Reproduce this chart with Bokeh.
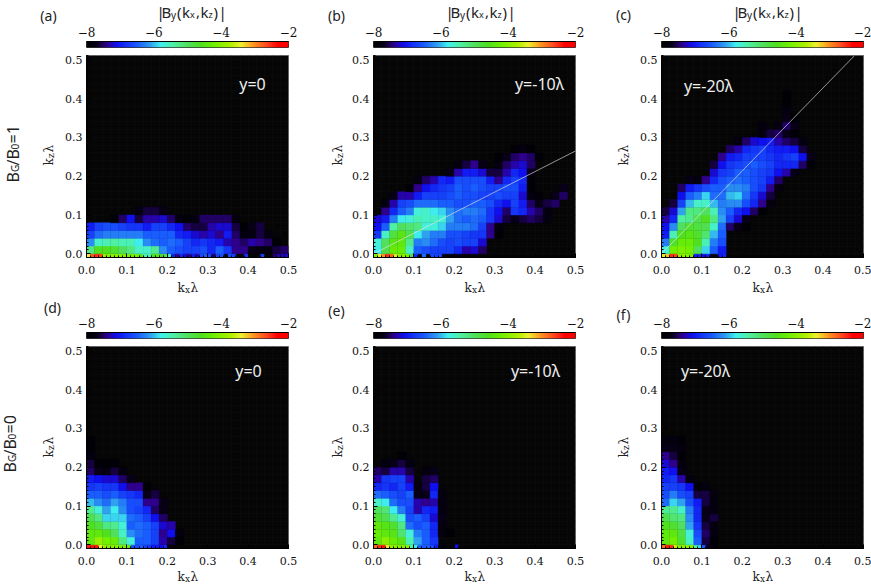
import math

import numpy as np
from bokeh.embed import file_html
from bokeh.layouts import column, row
from bokeh.models import ColumnDataSource, FixedTicker, Label, LinearColorMapper, PrintfTickFormatter, SingleIntervalTicker
from bokeh.plotting import figure
from bokeh.resources import INLINE

# log10 |By|, one list per kz row (0.02 wide), starting at kx=0 with 0.02 wide cells. -8 is background.
A_BASE = [-3.4, -2.7, -2.5, -2.6, -3.9, -4.0, -3.9, -4.0, -4.0, -4.1, -4.1, -4.2, -4.2, -4.5, -5.5, -5.6, -4.6, -4.5, -4.6, -5.0, -5.5, -7.0, -7.4, -6.9, -7.2, -7.4, -7.0, -7.3, -6.6, -6.5, -6.6, -7.5, -6.7, -6.6, -8, -6.6, -6.7, -8, -8, -6.8, -8, -8, -8, -6.7, -8, -8, -7.5, -7.3, -7.3, -7.2]
A_ROWS = [
    [-5.2, -4.6, -4.6, -4.7, -5.0, -5.2, -5.6, -5.6, -5.3, -6.2, -6.5, -6.6, -6.7, -6.7, -6.6, -6.9, -6.5, -6.8, -7.4, -7.4, -7.7, -7.8, -7.8, -7.6, -7.5],
    [-6.2, -5.6, -5.5, -5.4, -5.5, -5.5, -5.8, -6.2, -6.4, -6.5, -6.4, -6.5, -6.7, -6.9, -6.8, -6.9, -7.0, -7.3, -7.4, -7.5, -7.3, -7.4, -7.5, -7.9],
    [-6.7, -6.4, -6.3, -6.3, -6.3, -6.3, -6.3, -6.5, -6.5, -6.5, -6.5, -6.9, -7.0, -7.2, -7.3, -7.2, -7.4, -7.0, -7.5, -7.8, -7.8, -7.6, -7.8],
    [-7.0, -6.7, -6.6, -6.6, -6.7, -6.8, -6.8, -7.0, -6.7, -6.7, -6.9, -7.1, -7.5, -7.6, -7.6, -7.3, -7.2, -7.2, -7.6, -7.9, -7.7, -7.6],
    [-8, -8, -8, -7.9, -7.5, -7.1, -7.6, -7.3, -7.3, -7.2, -7.5, -7.8, -7.9, -7.8, -7.5, -7.5, -7.5, -7.5, -7.8],
    [-8, -8, -8, -8, -8, -8, -7.8, -7.6, -7.6, -7.7],
]

B_BASE = [-4.0, -3.4, -3.0, -2.5, -2.8, -3.5, -4.0, -4.0, -4.2, -5.0, -6.9, -8, -6.4, -8, -6.6, -6.7, -6.6, -7.7, -8, -7.8, -7.7, -7.8]
B_ROWS = [
    [-5.8, -4.9, -4.3, -4.3, -5.6, -6.5, -6.6, -6.7, -6.7, -6.7, -6.9, -7.3, -7.2, -7.5],
    [-5.7, -5.0, -4.5, -4.4, -5.3, -6.3, -6.2, -6.4, -6.6, -6.7, -6.6, -6.7, -6.7, -7.2],
    [-6.8, -5.6, -4.8, -4.5, -4.9, -5.8, -6.1, -6.3, -6.3, -6.6, -6.6, -6.7, -6.8, -6.8, -7.4, -7.9],
    [-7.1, -6.5, -5.4, -5.0, -5.1, -5.2, -5.7, -5.7, -5.9, -6.3, -6.3, -6.3, -6.4, -6.7, -7.4, -7.8],
    [-7.2, -7.0, -6.3, -5.8, -5.7, -5.5, -5.6, -5.6, -5.7, -6.1, -6.4, -6.5, -6.4, -6.5, -6.8, -7.2, -7.6, -7.7, -7.6, -7.5, -7.6, -7.8],
    [-8, -7.4, -6.9, -6.5, -6.3, -5.7, -5.6, -5.8, -5.9, -6.2, -6.4, -6.3, -6.3, -6.4, -6.8, -7.1, -7.5, -6.8, -6.9, -7.3, -7.5, -7.8],
    [-8, -7.8, -7.3, -6.7, -6.6, -6.4, -6.4, -6.4, -6.5, -6.5, -6.6, -6.6, -6.5, -6.5, -6.6, -6.9, -7.1, -6.7, -7.0, -7.5, -7.7, -7.6, -7.5],
    [-8, -8, -7.7, -7.3, -7.3, -7.0, -6.7, -6.7, -6.7, -6.6, -6.5, -6.6, -6.6, -6.7, -6.7, -6.6, -6.7, -6.7, -7.2, -7.8, -7.9, -8, -7.7, -7.5],
    [-8, -8, -8, -8, -7.9, -7.4, -7.1, -6.9, -6.8, -6.7, -6.5, -6.6, -6.5, -6.6, -6.7, -6.7, -6.6, -6.6, -7.0, -7.9, -8, -8, -8, -7.7],
    [-8, -8, -8, -8, -8, -7.8, -7.5, -7.3, -6.9, -7.0, -6.6, -6.6, -6.6, -6.6, -7.0, -7.4, -6.9, -6.7, -6.9, -7.9],
    [-8, -8, -8, -8, -8, -8, -8, -8, -8, -7.7, -7.3, -7.0, -7.0, -7.2, -7.6, -7.6, -7.3, -6.9, -7.1, -7.7],
    [-8, -8, -8, -8, -8, -8, -8, -8, -8, -8, -7.8, -7.6, -7.4, -7.7, -8, -7.8, -7.5, -7.3, -7.2, -7.5],
    [-8, -8, -8, -8, -8, -8, -8, -8, -8, -8, -8, -8, -8, -8, -8, -7.9, -7.7, -7.5, -7.4, -7.5, -7.9],
    [-8, -8, -8, -8, -8, -8, -8, -8, -8, -8, -8, -8, -8, -8, -8, -8, -8, -7.9, -7.8, -7.9],
]

C_BASE = [-3.5, -3.2, -2.5, -2.6, -3.9, -4.0, -4.0, -4.1, -7.0, -6.9, -7.2, -7.0, -8, -8, -7.0, -6.9]
C_ROWS = [
    [-5.7, -4.2, -4.1, -4.2, -5.0, -5.9, -6.5, -7.0],
    [-6.3, -4.7, -4.3, -4.3, -4.6, -5.5, -6.3, -6.6],
    [-7.0, -5.5, -4.6, -4.5, -4.7, -5.1, -6.0, -6.5],
    [-7.1, -6.2, -5.0, -4.7, -4.8, -4.9, -5.6, -6.4, -7.5, -7.7, -7.9],
    [-7.3, -6.9, -5.4, -5.3, -4.9, -4.6, -5.2, -6.1, -6.7, -7.2, -7.7],
    [-7.6, -7.2, -6.1, -5.2, -5.2, -5.0, -5.5, -6.2, -6.5, -6.9, -7.1, -7.5, -7.9],
    [-8, -7.6, -6.7, -6.0, -5.6, -5.6, -6.0, -6.3, -6.2, -6.2, -6.6, -6.9, -7.4, -7.8],
    [-8, -8, -7.1, -6.5, -6.3, -5.9, -6.4, -6.4, -6.0, -5.9, -6.4, -6.8, -7.2, -7.6],
    [-8, -8, -7.5, -7.0, -6.8, -6.6, -6.5, -6.5, -6.2, -6.2, -6.3, -6.6, -6.8, -7.4, -7.8],
    [-8, -8, -8, -7.7, -7.8, -7.4, -6.9, -6.6, -6.5, -6.4, -6.5, -6.6, -6.7, -7.0, -7.5],
    [-8, -8, -8, -8, -8, -8, -7.2, -6.8, -6.7, -6.5, -6.5, -6.6, -6.7, -6.8, -7.1, -7.3, -7.7],
    [-8, -8, -8, -8, -8, -8, -7.6, -7.1, -6.8, -6.7, -6.6, -6.5, -6.6, -6.7, -6.9, -6.9, -6.9, -7.5, -7.9],
    [-8, -8, -8, -8, -8, -8, -8, -7.4, -7.0, -6.9, -6.7, -6.7, -6.7, -6.8, -6.9, -6.8, -6.7, -7.1, -7.7],
    [-8, -8, -8, -8, -8, -8, -8, -8, -7.5, -7.3, -6.9, -6.8, -6.7, -6.9, -7.0, -7.0, -7.1, -7.6],
    [-8, -8, -8, -8, -8, -8, -8, -8, -8, -7.8, -7.5, -7.2, -7.1, -7.0, -7.3, -7.5, -7.6, -7.8],
    [-8, -8, -8, -8, -8, -8, -8, -8, -8, -8, -8, -8, -7.8, -7.6, -7.5, -7.7, -7.9],
    [-8, -8, -8, -8, -8, -8, -8, -8, -8, -8, -8, -8, -7.8, -8, -7.8, -7.5, -7.7],
    [-8, -8, -8, -8, -8, -8, -8, -8, -8, -8, -8, -8, -8, -8, -8, -7.7, -7.9],
    [-8, -8, -8, -8, -8, -8, -8, -8, -8, -8, -8, -8, -8, -8, -8, -7.8],
    [-8, -8, -8, -8, -8, -8, -8, -8, -8, -8, -8, -8, -8, -8, -8, -7.9],
    [-8, -8, -8, -8, -8, -8, -8, -8, -8, -8, -8, -8, -8, -8, -8, -7.9],
]

D_BASE = [-2.4, -2.4, -2.4, -3.4, -3.9, -4.0, -4.0, -4.0, -4.1, -4.1, -4.3, -6.6, -6.6, -6.5, -6.7, -6.8, -7.0, -7.0, -7.1, -6.9]
D_ROWS = [
    [-4.4, -3.9, -4.2, -4.3, -5.2, -5.7, -6.5, -6.5, -6.7, -7.3, -7.6, -7.9],
    [-4.4, -4.4, -4.6, -5.0, -5.6, -6.2, -6.4, -6.5, -6.7, -7.4, -7.1, -7.8],
    [-4.6, -4.8, -5.2, -5.3, -5.7, -6.5, -6.4, -6.5, -6.7, -7.2, -7.3],
    [-4.9, -5.2, -5.9, -5.9, -5.9, -6.4, -6.5, -6.7, -7.1, -7.5],
    [-5.3, -5.7, -6.1, -5.8, -6.2, -6.6, -6.7, -6.9, -7.5, -7.7],
    [-6.0, -6.2, -6.4, -6.1, -6.3, -6.6, -6.6, -7.4, -7.4, -7.7],
    [-6.5, -6.5, -6.6, -6.5, -6.7, -6.8, -6.9, -7.7, -7.6],
    [-6.8, -6.7, -6.8, -6.8, -7.1, -7.4, -7.4, -7.9],
    [-7.0, -7.1, -7.2, -7.2, -7.5, -7.7],
    [-7.5, -7.7, -7.8, -7.6, -7.8],
    [-7.6, -7.9, -7.9, -7.9],
    [-7.8],
    [-7.9],
    [-7.9],
]

E_BASE = [-2.8, -2.5, -2.4, -3.4, -3.9, -4.0, -4.0, -4.0, -4.0, -5.5, -5.8, -6.5, -6.5, -6.5, -6.6, -7.0, -8, -7.8, -8, -8, -7.1]
E_ROWS = [
    [-4.4, -4.0, -4.3, -4.5, -5.5, -6.1, -6.5, -6.8],
    [-4.3, -4.4, -4.5, -5.1, -5.7, -6.3, -6.5, -6.9, -7.8, -7.9],
    [-4.4, -4.5, -4.7, -5.2, -6.4, -6.6, -6.5, -6.9, -7.8],
    [-4.7, -4.9, -5.3, -5.7, -6.6, -6.5, -6.7, -7.2, -7.7],
    [-5.0, -5.1, -5.8, -6.3, -6.7, -7.3, -6.9, -7.0, -7.8],
    [-5.6, -5.8, -6.4, -6.6, -6.6, -7.3, -7.4, -7.3, -7.8],
    [-6.4, -6.5, -6.6, -6.7, -6.5, -7.7, -7.7, -6.9, -7.8],
    [-6.9, -6.8, -6.9, -6.7, -7.0, -7.8, -7.6, -7.1],
    [-7.3, -6.8, -6.7, -6.7, -7.3, -8, -7.6, -7.5],
    [-7.5, -7.6, -7.3, -7.3, -7.6, -8, -7.8, -7.7],
    [-8, -7.8, -7.7, -7.6, -7.8],
    [-8, -8, -8, -7.9],
]

F_BASE = [-2.8, -2.4, -2.5, -3.6, -4.0, -4.0, -4.0, -4.1, -5.4, -5.9, -6.5, -7.7, -7.7, -7.9]
F_ROWS = [
    [-4.4, -4.2, -4.7, -5.6, -6.5, -7.6, -7.9],
    [-4.4, -4.4, -4.8, -5.7, -6.6, -7.5, -7.8],
    [-4.6, -4.7, -5.0, -6.1, -6.8, -7.6, -7.8],
    [-4.9, -5.1, -5.2, -6.2, -6.9, -7.7, -7.6],
    [-5.3, -5.3, -5.6, -6.3, -6.9, -7.7, -7.8],
    [-6.4, -5.9, -6.1, -6.6, -7.0, -7.6, -7.8],
    [-6.6, -6.3, -6.6, -6.7, -7.6, -7.6, -7.8],
    [-6.7, -6.7, -6.8, -7.1, -7.9, -7.8],
    [-6.9, -6.8, -7.3, -7.8],
    [-7.0, -7.1, -7.7],
    [-7.2, -7.4, -7.8],
    [-7.4, -7.6, -7.9],
    [-7.7, -7.7, -7.8],
    [-7.8, -7.8, -7.9],
]

CBAR_TICKS = [-8, -6, -4, -2]
K_TICK_STEP = 0.1
# white guide lines in (b) and (c): kx, kz
B_LINE = ([0.0, 0.5], [0.0, 0.265])
C_LINE = ([0.0, 0.478], [0.0, 0.511])

CMAP_VALUES = [-8.0, -7.7, -7.4, -7.1, -6.5, -6.1, -5.8, -5.4, -5.0, -4.6, -4.2, -3.7, -3.4, -3.0, -2.6, -2.3, -2.0]
CMAP_COLORS = ["#000000", "#080018", "#300090", "#1010f0", "#1a5cff", "#30a0f0", "#40f0f0", "#50f0a0",
               "#50e060", "#50e020", "#70f000", "#b0f000", "#f0f030", "#ff9020", "#ff4020", "#ff0000", "#ff0000"]

SERIF = "DejaVu Serif"
SANS = "Noto Sans"


def make_palette(n=256):
    rgb = np.array([[int(c[i:i + 2], 16) for i in (1, 3, 5)] for c in CMAP_COLORS])
    levels = np.linspace(-8, -2, n)
    chans = [np.interp(levels, CMAP_VALUES, rgb[:, i]) for i in range(3)]
    return ["#%02x%02x%02x" % (int(r), int(g), int(b)) for r, g, b in zip(*chans)]


mapper = LinearColorMapper(palette=make_palette(), low=-8, high=-2)


def cbar_fig(left, right, top, bottom):
    p = figure(width=left + 202 + right, height=top + 6 + bottom, x_range=(-8, -2), y_range=(0, 1),
               x_axis_location="above", y_axis_location=None, toolbar_location=None, tools="",
               output_backend="svg", min_border_left=left, min_border_right=right,
               min_border_top=top, min_border_bottom=bottom)
    p.image(image=[np.linspace(-8, -2, 256).reshape(1, -1)], x=-8, y=0, dw=6, dh=1, color_mapper=mapper)
    p.grid.visible = False
    p.xaxis.ticker = FixedTicker(ticks=CBAR_TICKS)
    p.xaxis.major_label_overrides = {t: "\u2212%d" % abs(t) for t in CBAR_TICKS}
    p.xaxis.major_tick_in = 0
    p.xaxis.major_tick_out = 0
    p.xaxis.minor_tick_in = 0
    p.xaxis.minor_tick_out = 0
    p.xaxis.major_label_standoff = 5
    p.xaxis.major_label_text_font = SERIF
    p.xaxis.major_label_text_font_size = "12px"
    p.xaxis.major_label_text_color = "#111111"
    p.outline_line_color = "#333333"
    return p


def heat_fig(rows, base, left, right, top, bottom, line=None):
    l, r, b, t, v = [], [], [], [], []
    for i, val in enumerate(base):
        if val > -8:
            l.append(i * 0.01); r.append((i + 1) * 0.01); b.append(-0.01); t.append(0.0); v.append(val)
    for k, vals in enumerate(rows):
        for j, val in enumerate(vals):
            if val > -8:
                l.append(j * 0.02); r.append((j + 1) * 0.02); b.append(k * 0.02); t.append((k + 1) * 0.02); v.append(val)
    source = ColumnDataSource(dict(l=l, r=r, b=b, t=t, v=v))

    p = figure(width=left + 202 + right, height=top + 202 + bottom, x_range=(0, 0.5), y_range=(-0.0095, 0.511),
               toolbar_location=None, tools="", output_backend="svg", background_fill_color="#050505",
               min_border_left=left, min_border_right=right, min_border_top=top, min_border_bottom=bottom)
    color = {"field": "v", "transform": mapper}
    p.quad(left="l", right="r", bottom="b", top="t", source=source, fill_color=color, line_color=color, line_width=0.4)
    if line:
        p.line(line[0], line[1], line_color="#e8e8e8", line_alpha=0.8, line_width=0.8)

    p.grid.grid_line_color = "#0c0c0c"
    p.grid.grid_line_width = 0.6
    p.grid.ticker = FixedTicker(ticks=[i * 0.02 for i in range(26)])
    for ax in (p.xaxis, p.yaxis):
        ax.ticker = SingleIntervalTicker(interval=K_TICK_STEP, num_minor_ticks=10)
        ax.formatter = PrintfTickFormatter(format="%.1f")
        ax.major_tick_in = 4
        ax.major_tick_out = 0
        ax.minor_tick_in = 2
        ax.minor_tick_out = 0
        ax.major_tick_line_color = "black"
        ax.minor_tick_line_color = "black"
        ax.major_label_text_font = SERIF
        ax.major_label_text_font_size = "11px"
        ax.major_label_text_color = "#111111"
        ax.axis_line_color = "black"
    p.xaxis.major_label_standoff = 8
    p.yaxis.major_label_standoff = 4
    p.outline_line_color = "#666666"
    return p


# widths of the three columns: left border, right border
COLS = [(86, 22), (63, 15), (71, 8)]

c_a = cbar_fig(*COLS[0], 41, 3)
c_b = cbar_fig(*COLS[1], 41, 3)
c_c = cbar_fig(*COLS[2], 41, 3)
m_a = heat_fig(A_ROWS, A_BASE, *COLS[0], 5, 35)
m_b = heat_fig(B_ROWS, B_BASE, *COLS[1], 5, 35, line=B_LINE)
m_c = heat_fig(C_ROWS, C_BASE, *COLS[2], 5, 35, line=C_LINE)
c_d = cbar_fig(*COLS[0], 40, 2)
c_e = cbar_fig(*COLS[1], 40, 2)
c_f = cbar_fig(*COLS[2], 40, 2)
m_d = heat_fig(D_ROWS, D_BASE, *COLS[0], 6, 36)
m_e = heat_fig(E_ROWS, E_BASE, *COLS[1], 6, 36)
m_f = heat_fig(F_ROWS, F_BASE, *COLS[2], 6, 36)

# labels outside a frame get cut, so all free text sits on one transparent figure over the page
text_layer = figure(width=871, height=584, x_range=(0, 871), y_range=(584, 0), x_axis_location=None, y_axis_location=None,
                    toolbar_location=None, tools="", output_backend="svg", min_border=0, outline_line_color=None,
                    background_fill_color=None, border_fill_color=None, margin=(-584, 0, 0, 0))
text_layer.grid.visible = False


def put_text(x, y, text, size, color="#222222", font=SANS, align="left", angle=0):
    text_layer.add_layout(Label(x=x, y=y, text=text, text_font=font, text_font_size="%gpx" % size, text_color=color,
                                text_align=align, text_baseline="middle", angle=angle))


def rich_text(x, y, parts, font=SANS, vertical=False):
    # parts: text, advance, drop for sub script, size
    pos = 0
    for text, adv, drop, size in parts:
        if vertical:
            put_text(x + drop, y - pos, text, size, font=font, angle=math.pi / 2)
        else:
            put_text(x + pos, y + drop, text, size, font=font)
        pos += adv


TITLE_PARTS = [("|", 5, 0, 15), ("B", 9.5, 0, 15), ("y", 6, 3, 10), ("(", 5, 0, 15), ("k", 8, 0, 15), ("x", 6, 3, 9),
               (",", 4.5, 0, 15), ("k", 8, 0, 15), ("z", 5, 3, 9), (")", 5, 0, 15), ("|", 5, 0, 15)]
for x in (187, 476, 763):
    rich_text(x - 31, 11, TITLE_PARTS)

PANEL_TAGS = [("(a)", 48, 15), ("(b)", 336, 15), ("(c)", 623, 14), ("(d)", 52, 307), ("(e)", 336, 310), ("(f)", 623, 314)]
for tag, x, y in PANEL_TAGS:
    put_text(x, y, tag, 14, align="center")

CAPTIONS = [("y=0", 252, 83), ("y=-10\u03bb", 539, 83), ("y=-20\u03bb", 708, 85),
            ("y=0", 248, 370), ("y=-10\u03bb", 535, 370), ("y=-20\u03bb", 705, 370)]
for tag, x, y in CAPTIONS:
    put_text(x, y, tag, 16, color="#eeeeee", align="center")

for cx in (187, 474, 762):
    for y in (287, 576):
        rich_text(cx - 10, y, [("k", 7.5, 0, 12), ("x", 5.5, 2, 9), ("\u03bb", 7, 0, 12)], font=SERIF)
for x in (48, 337, 623):
    for y in (165, 457):
        rich_text(x, y, [("k", 7.5, 0, 12), ("z", 5.5, 2, 9), ("\u03bb", 7, 0, 12)], font=SERIF, vertical=True)

RATIO_PARTS = [("B", 10.5, 0, 16), ("G", 6.5, 2, 10), ("/B", 16, 0, 16), ("0", 6, 2, 10)]
rich_text(12, 182, RATIO_PARTS + [("=1", 19, 0, 16)], vertical=True)
rich_text(9, 472, RATIO_PARTS + [("=0", 19, 0, 16)], vertical=True)

page = column(row(c_a, c_b, c_c), row(m_a, m_b, m_c), row(c_d, c_e, c_f), row(m_d, m_e, m_f), text_layer)

open("out.html", "w").write(file_html(page, INLINE))
